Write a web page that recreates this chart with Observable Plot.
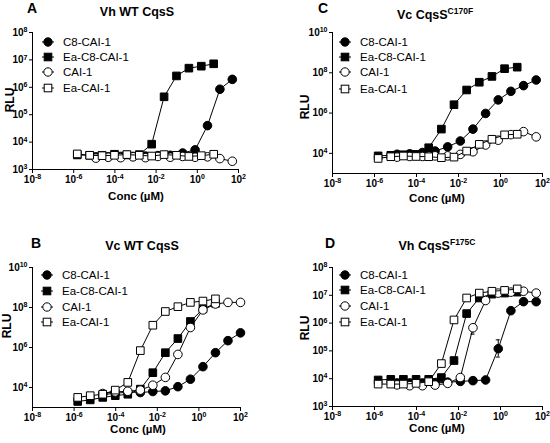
<!DOCTYPE html>
<html><head><meta charset="utf-8">
<script src="https://cdn.jsdelivr.net/npm/d3@7"></script>
<script src="https://cdn.jsdelivr.net/npm/@observablehq/plot@0.6"></script>
<style>
body{margin:0;background:#fff;}
#wrap{position:relative;width:550px;height:443px;overflow:hidden;background:#fff;}
#wrap > svg{position:absolute;}
#overlay{position:absolute;left:0;top:0;pointer-events:none;}
</style></head><body><div id="wrap"></div>
<script>
// ---------- data ----------
const seriesNames = ["C8-CAI-1", "Ea-C8-CAI-1", "CAI-1", "Ea-CAI-1"];
const xTicks = [1e-8, 1e-6, 1e-4, 1e-2, 1e0, 1e2];
// concentrations (µM), highest first, 4-fold dilutions
const concCircle  = [50, 12.5, 3.125, 0.781, 0.195, 0.0488, 0.0122, 0.00305, 7.63e-4, 1.91e-4, 4.77e-5, 1.19e-5];
const concCircleB = [100, 25, 6.25, 1.5625, 0.391, 0.0977, 0.0244, 0.0061, 0.00153, 3.81e-4, 9.54e-5, 2.38e-5];
const concSquare  = [6.25, 1.5625, 0.391, 0.0977, 0.0244, 0.0061, 0.00153, 3.81e-4, 9.54e-5, 2.38e-5, 5.96e-6, 1.49e-6];

// Panel A: Vh WT CqsS
const A_C8     = [1.95e6, 8.5e5, 4.0e4, 5200, 4000, 3300, 3200, 3100, 3000, 3000, 2900, 2900];
const A_EaC8   = [7.2e6, 5.9e6, 5.0e6, 2.6e6, 4.5e5, 8400, 3500, 3400, 3600, 3300, 3300, 3400];
const A_CAI1   = [2000, 2500, 2900, 2800, 3000, 2800, 3000, 2700, 2900, 2700, 2800, 2600];
const A_EaCAI1 = [3600, 3200, 3000, 3300, 3500, 3100, 3300, 3500, 3300, 3200, 3300, 3700];
// Panel C: Vc CqsS C170F
const C_C8     = [4.4e7, 2.3e7, 1.2e7, 4.5e6, 9.6e5, 1.6e5, 4.1e4, 2.1e4, 1.3e4, 1.1e4, 9500, 9000];
const C_EaC8   = [1.9e8, 1.6e8, 6.6e7, 3.4e7, 1.4e7, 2.6e6, 1.6e5, 1.9e4, 8900, 8500, 8000, 7500];
const C_CAI1   = [6.6e4, 1.2e5, 8.5e4, 4.5e4, 2.6e4, 1.2e4, 8900, 7500, 7500, 7000, 7000, 6500];
const C_EaCAI1 = [8.9e4, 8.3e4, 5.0e4, 2.8e4, 1.3e4, 6500, 6100, 6800, 7000, 7400, 6800, 5600];
// Panel B: Vc WT CqsS
const B_C8     = [5.4e6, 2.2e6, 5.5e5, 1.1e5, 2.6e4, 1.1e4, 6800, 6300, 5600, 6000, 5000, 4500];
const B_EaC8   = [1.6e8, 8.5e7, 2.0e7, 2.8e6, 5.5e5, 5.5e4, 8300, 4600, 3900, 3200, 2400, 2000];
const B_CAI1   = [1.8e8, 1.8e8, 1.5e8, 7.6e7, 1.0e7, 4.5e5, 3.2e4, 1.3e4, 7400, 6500, 6000, 5000];
const B_EaCAI1 = [2.7e8, 2.1e8, 1.8e8, 1.1e8, 6.3e7, 1.3e7, 7.0e5, 1.8e4, 7400, 4600, 3900, 3200];
// Panel D: Vh CqsS F175C
const D_C8     = [5.9e6, 5.9e6, 2.8e6, 1.2e5, 9000, 8500, 8000, 7500, 7000, 7000, 7000, 7000];
const D_EaC8   = [1.3e7, 1.2e7, 1.1e7, 8.0e6, 2.2e6, 4.5e4, 1.1e4, 9500, 9500, 9500, 9500, 9000];
const D_CAI1   = [1.2e7, 1.4e7, 1.3e7, 1.2e7, 6.5e6, 6.8e5, 1.1e4, 6800, 5900, 5600, 5600, 6000];
const D_EaCAI1 = [1.7e7, 1.5e7, 1.4e7, 1.2e7, 8.0e6, 1.3e6, 3.5e4, 7800, 6800, 6400, 6400, 6400];
// error bars in D: [series index, point index, low, high]
const D_errSeries = [0, 2];
const D_errPoint  = [3, 5];
const D_errLow    = [6.0e4, 4.0e5];
const D_errHigh   = [2.5e5, 8.0e5];

// ---------- layout ----------
const FONT = '"Liberation Sans", Arial, Helvetica, sans-serif';
const panels = [
  {letter:"A", title:["Vh WT CqsS",""], left:0, top:0, w:275, h:221, ml:32, mr:37, mt:32, mb:52,
   yDomain:[1e3,1e8], yTicks:[1e3,1e4,1e5,1e6,1e7,1e8], circ:concCircle,
   vals:[A_C8,A_EaC8,A_CAI1,A_EaCAI1],
   legX:48, legY:[42,57,72,88], letterXY:[27,13], titleXY:[137,16], xlabXY:[136,200], ylabXY:[10,100]},
  {letter:"C", title:["Vc CqsS","C170F"], left:275, top:0, w:275, h:221, ml:57, mr:8, mt:32, mb:48,
   yDomain:[1e3,1e10], yTicks:[1e4,1e6,1e8,1e10], circ:concCircle,
   vals:[C_C8,C_EaC8,C_CAI1,C_EaCAI1],
   legX:345, legY:[42,57,72,89], letterXY:[318,13], titleXY:[435,19], xlabXY:[437,202], ylabXY:[305,107]},
  {letter:"B", title:["Vc WT CqsS",""], left:0, top:221, w:275, h:222, ml:32, mr:35, mt:46, mb:36,
   yDomain:[1e3,1e10], yTicks:[1e4,1e6,1e8,1e10], circ:concCircleB,
   vals:[B_C8,B_EaC8,B_CAI1,B_EaCAI1],
   legX:47, legY:[275,291,307,322], letterXY:[31,248], titleXY:[142,250], xlabXY:[138,433], ylabXY:[7,326]},
  {letter:"D", title:["Vh CqsS","F175C"], left:275, top:221, w:275, h:222, ml:57, mr:8, mt:46, mb:37,
   yDomain:[1e3,1e8], yTicks:[1e3,1e4,1e5,1e6,1e7,1e8], circ:concCircle,
   vals:[D_C8,D_EaC8,D_CAI1,D_EaCAI1],
   err:true,
   legX:345, legY:[275,290,306,322], letterXY:[325,248], titleXY:[437,250], xlabXY:[437,432], ylabXY:[305,328]}
];

const symStyle = [
  {symbol:"circle", fill:"black"},
  {symbol:"square", fill:"black"},
  {symbol:"circle", fill:"white"},
  {symbol:"square", fill:"white"}
];
const fmt = d => "10^" + Math.round(Math.log10(d));

const wrap = document.getElementById("wrap");

function supify(svg){
  svg.querySelectorAll("text").forEach(t => {
    const m = /^10\^(-?\d+)$/.exec(t.textContent);
    if (m) {
      t.textContent = "10";
      const ts = document.createElementNS("http://www.w3.org/2000/svg","tspan");
      ts.setAttribute("dy","-0.5em");
      ts.setAttribute("font-size","7");
      ts.textContent = m[1];
      t.appendChild(ts);
    }
  });
}

panels.forEach(p => {
  const marks = [];
  p.vals.forEach((v, i) => {
    const conc = (i % 2 === 0) ? p.circ : concSquare;
    const rows = conc.map((c, k) => ({x: c, y: v[k]}));
    marks.push(Plot.line(rows, {x:"x", y:"y", stroke:"black", strokeWidth:1}));
    if (p.err) {
      const eb = D_errSeries.map((s, j) => ({s, x: (s%2===0?p.circ:concSquare)[D_errPoint[j]], lo:D_errLow[j], hi:D_errHigh[j]})).filter(e => e.s === i);
      marks.push(Plot.ruleX(eb, {x:"x", y1:"lo", y2:"hi", stroke:"black", strokeWidth:1}));
      marks.push(Plot.ruleY(eb, {y:"lo", x1:d => d.x/1.25, x2:d => d.x*1.25, stroke:"black", strokeWidth:1}));
      marks.push(Plot.ruleY(eb, {y:"hi", x1:d => d.x/1.25, x2:d => d.x*1.25, stroke:"black", strokeWidth:1}));
    }
    marks.push(Plot.dot(rows, {x:"x", y:"y", symbol:symStyle[i].symbol, r:4.3, fill:symStyle[i].fill, stroke:"black", strokeWidth:1}));
  });
  const svg = Plot.plot({
    width:p.w, height:p.h, marginLeft:p.ml, marginRight:p.mr, marginTop:p.mt, marginBottom:p.mb,
    x:{type:"log", domain:[xTicks[0], xTicks[xTicks.length-1]]},
    y:{type:"log", domain:p.yDomain},
    style:{fontFamily:FONT, fontSize:"10px", fontWeight:"bold", color:"#000", background:"transparent", overflow:"visible"},
    marks:[
      Plot.axisX(xTicks, {tickFormat:fmt, tickSize:4, tickPadding:2, label:null}),
      Plot.axisY(p.yTicks, {tickFormat:fmt, tickSize:3, tickPadding:2, label:null}),
      Plot.ruleX([xTicks[0]], {stroke:"black", strokeWidth:1}),
      Plot.ruleY([p.yDomain[0]], {stroke:"black", strokeWidth:1}),
      ...marks
    ]
  });
  svg.style.left = p.left + "px";
  svg.style.top = p.top + "px";
  supify(svg);
  wrap.appendChild(svg);
});

// ---------- overlay text and legends ----------
const NS = "http://www.w3.org/2000/svg";
const ov = document.createElementNS(NS, "svg");
ov.setAttribute("id","overlay");
ov.setAttribute("width", 550); ov.setAttribute("height", 443);
ov.setAttribute("font-family", FONT);
function el(tag, attrs, parent, text){
  const e = document.createElementNS(NS, tag);
  for (const k in attrs) e.setAttribute(k, attrs[k]);
  if (text != null) e.textContent = text;
  (parent || ov).appendChild(e);
  return e;
}
panels.forEach(p => {
  el("text", {x:p.letterXY[0], y:p.letterXY[1], "font-size":14, "font-weight":"bold"}, ov, p.letter);
  const t = el("text", {x:p.titleXY[0], y:p.titleXY[1], "font-size":12.5, "font-weight":"bold", "text-anchor":"middle"}, ov, p.title[0]);
  if (p.title[1]) { el("tspan", {dy:-5, "font-size":8.5}, t, p.title[1]); }
  el("text", {x:p.xlabXY[0], y:p.xlabXY[1], "font-size":11.5, "font-weight":"bold", "text-anchor":"middle"}, ov, "Conc (\u00B5M)");
  el("text", {transform:`translate(${p.ylabXY[0]},${p.ylabXY[1]}) rotate(-90)`, "font-size":12, "font-weight":"bold", "text-anchor":"middle", dy:"0.35em"}, ov, "RLU");
  seriesNames.forEach((name, i) => {
    const y = p.legY[i], x = p.legX;
    el("line", {x1:x-6, x2:x+6, y1:y, y2:y, stroke:"black", "stroke-width":1});
    if (symStyle[i].symbol === "circle") el("circle", {cx:x, cy:y, r:4.2, fill:symStyle[i].fill, stroke:"black"});
    else el("rect", {x:x-3.8, y:y-3.8, width:7.6, height:7.6, fill:symStyle[i].fill, stroke:"black"});
    el("text", {x:x+15, y:y, dy:"0.36em", "font-size":11.5}, ov, name);
  });
});
wrap.appendChild(ov);
</script></body></html>
